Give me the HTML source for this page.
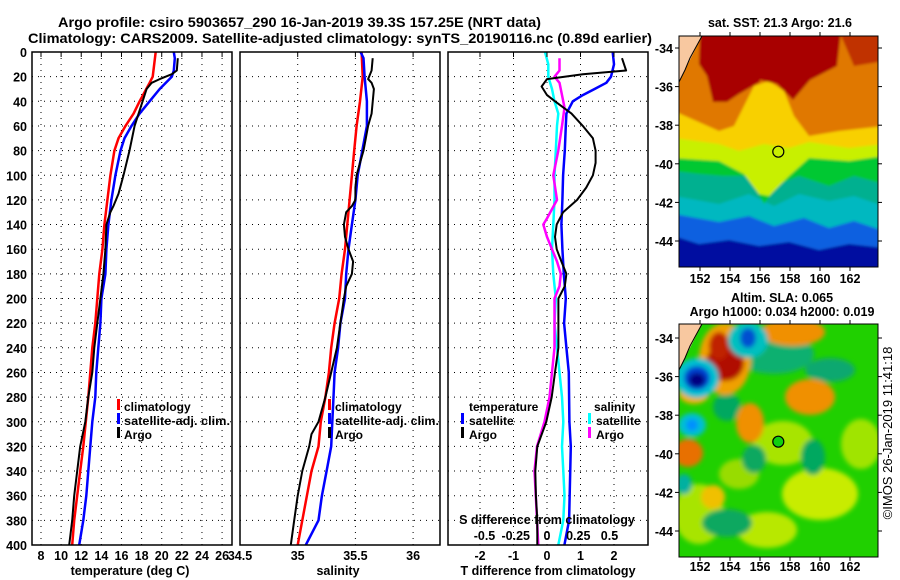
<!DOCTYPE html>
<html><head><meta charset="utf-8">
<style>
html,body{margin:0;padding:0;background:#fff;}
svg{display:block;font-family:"Liberation Sans",sans-serif;font-weight:bold;}
text{font-size:12.5px;fill:#000;}
</style></head>
<body>
<svg id="chart" width="900" height="580" viewBox="0 0 900 580" xmlns="http://www.w3.org/2000/svg">
<defs>
  <filter id="blur1" x="-5%" y="-5%" width="110%" height="110%"><feGaussianBlur stdDeviation="1.2"/></filter>
  <filter id="blur2" x="-10%" y="-10%" width="120%" height="120%"><feGaussianBlur stdDeviation="2.5"/></filter>
  <clipPath id="clipTop"><rect x="679" y="36" width="199" height="231"/></clipPath>
  <clipPath id="clipBot"><rect x="679" y="324" width="199" height="233"/></clipPath>
  <clipPath id="clipP1"><rect x="32" y="52" width="200" height="493"/></clipPath>
  <clipPath id="clipP2"><rect x="240" y="52" width="200" height="493"/></clipPath>
  <clipPath id="clipP3"><rect x="448" y="52" width="200" height="493"/></clipPath>
</defs>
<text x="58" y="27" textLength="483" lengthAdjust="spacingAndGlyphs" style="font-size:14px">Argo profile: csiro 5903657_290 16-Jan-2019 39.3S 157.25E (NRT data)</text>
<text x="28" y="43" textLength="624" lengthAdjust="spacingAndGlyphs" style="font-size:14px">Climatology: CARS2009. Satellite-adjusted climatology: synTS_20190116.nc (0.89d earlier)</text>

<g id="grids"></g>
<g id="series"></g>
<g id="axes"></g>

<!-- legends -->
<g style="font-size:12px">
  <rect x="117" y="399" width="3" height="11" fill="#f00"/><text x="124" y="411" style="font-size:12px">climatology</text>
  <rect x="117" y="413" width="3" height="11" fill="#00f"/><text x="124" y="425" style="font-size:12px" textLength="106" lengthAdjust="spacingAndGlyphs">satellite-adj. clim.</text>
  <rect x="117" y="427" width="3" height="11" fill="#000"/><text x="124" y="439" style="font-size:12px">Argo</text>
</g>
<g>
  <rect x="328" y="399" width="3" height="11" fill="#f00"/><text x="335" y="411" style="font-size:12px">climatology</text>
  <rect x="328" y="413" width="3" height="11" fill="#00f"/><text x="335" y="425" style="font-size:12px" textLength="104" lengthAdjust="spacingAndGlyphs">satellite-adj. clim.</text>
  <rect x="328" y="427" width="3" height="11" fill="#000"/><text x="335" y="439" style="font-size:12px">Argo</text>
</g>
<g>
  <text x="469" y="411" style="font-size:12px">temperature</text>
  <rect x="461" y="413" width="3" height="11" fill="#00f"/><text x="469" y="425" style="font-size:12px">satellite</text>
  <rect x="461" y="427" width="3" height="11" fill="#000"/><text x="469" y="439" style="font-size:12px">Argo</text>
  <text x="594" y="411" style="font-size:12px">salinity</text>
  <rect x="588" y="413" width="3" height="11" fill="#0ff"/><text x="596" y="425" style="font-size:12px">satellite</text>
  <rect x="588" y="427" width="3" height="11" fill="#f0f"/><text x="596" y="439" style="font-size:12px">Argo</text>
</g>

<!-- axis titles -->
<text x="130" y="575" text-anchor="middle">temperature (deg C)</text>
<text x="338" y="575" text-anchor="middle">salinity</text>
<text x="548" y="575" text-anchor="middle">T difference from climatology</text>
<text x="547" y="524" text-anchor="middle">S difference from climatology</text>

<!-- SST map -->
<g clip-path="url(#clipTop)">
  <g transform="translate(679,36)" filter="url(#blur1)">
    <rect x="-5" y="-5" width="210" height="245" fill="#0010a0"/>
    <path d="M-5,-5 H205 V212 L170,208 L140,214 L110,206 L80,210 L50,204 L20,208 L-5,200 Z" fill="#1060e0"/>
    <path d="M-5,-5 H205 V195 L175,185 L150,192 L125,182 L95,190 L70,180 L40,186 L-5,178 Z" fill="#00b8c0"/>
    <path d="M-5,-5 H205 V170 L175,160 L150,165 L120,158 L95,170 L70,158 L40,168 L-5,160 Z" fill="#00b090"/>
    <path d="M-5,-5 H205 V148 L175,140 L150,150 L120,140 L100,148 L85,168 L70,140 L45,140 L20,138 L-5,135 Z" fill="#00c830"/>
    <path d="M-5,-5 H205 V120 L170,125 L130,122 L110,140 L90,160 L80,158 L65,138 L40,125 L-5,122 Z" fill="#c8f000"/>
    <path d="M-5,-5 H205 V108 L170,112 L130,106 L110,112 L85,108 L60,115 L40,108 L-5,102 Z" fill="#f8d000"/>
    <path d="M-5,-5 H205 V90 L160,95 L130,100 L115,80 L105,55 L90,45 L75,50 L55,90 L40,95 L-5,75 Z" fill="#e07800"/>
    <path d="M21,-5 L81,-5 L81,46 L60,58 L48,66 L34,66 L28,40 L20,28 Z" fill="#a80000"/>
    <path d="M81,-5 L162,-5 L158,30 L131,44 L114,64 L98,48 L81,44 Z" fill="#a80000"/>
    <path d="M160,-5 L205,-5 L205,25 L175,30 Z" fill="#c03000"/>
  </g>
  <path d="M679,36 L702,36 L679,82 Z" fill="#f8c8a0"/>
  <path d="M702,36 L690,58 L685,70 L679,82" fill="none" stroke="#000" stroke-width="1"/>
</g>
<rect x="679" y="36" width="199" height="231" fill="none" stroke="#000" stroke-width="1"/>
<circle cx="778.3" cy="151.7" r="5.5" fill="none" stroke="#000" stroke-width="1.2"/>
<text x="780" y="27" text-anchor="middle">sat. SST: 21.3 Argo: 21.6</text>

<!-- SLA map -->
<g clip-path="url(#clipBot)">
  <g transform="translate(679,324)">
    <rect x="-5" y="-5" width="210" height="245" fill="#20d000"/>
    <g filter="url(#blur2)">
      <ellipse cx="141" cy="170" rx="38" ry="26" fill="#c8ec00"/>
      <ellipse cx="104" cy="119" rx="30" ry="22" fill="#a8e400"/>
      <ellipse cx="182" cy="120" rx="20" ry="25" fill="#a0e400"/>
      <ellipse cx="88" cy="206" rx="30" ry="18" fill="#b8e800"/>
      <ellipse cx="20" cy="190" rx="25" ry="30" fill="#a8e400"/>
      <ellipse cx="60" cy="150" rx="20" ry="15" fill="#98dc00"/>
      <ellipse cx="48" cy="83" rx="14" ry="14" fill="#00a860"/>
      <ellipse cx="134" cy="133" rx="12" ry="18" fill="#00a860"/>
      <ellipse cx="151" cy="46" rx="25" ry="12" fill="#10a870"/>
      <ellipse cx="48" cy="199" rx="25" ry="14" fill="#10a860"/>
      <ellipse cx="75" cy="135" rx="12" ry="14" fill="#10a860"/>
      <ellipse cx="95" cy="30" rx="40" ry="20" fill="#10b070"/>
      <ellipse cx="46" cy="35" rx="26" ry="36" fill="#f0a000"/>
      <ellipse cx="46" cy="39" rx="19" ry="18" fill="#b01000"/>
      <ellipse cx="40" cy="22" rx="10" ry="14" fill="#c02000"/>
      <ellipse cx="114" cy="8" rx="32" ry="14" fill="#f09000"/>
      <ellipse cx="131" cy="73" rx="25" ry="18" fill="#f09000"/>
      <ellipse cx="71" cy="99" rx="14" ry="20" fill="#f09000"/>
      <ellipse cx="9" cy="129" rx="15" ry="14" fill="#e87000"/>
      <ellipse cx="34" cy="173" rx="12" ry="12" fill="#f0c000"/>
      <ellipse cx="15" cy="70" rx="15" ry="10" fill="#f0b000"/>
      <ellipse cx="69" cy="16" rx="20" ry="18" fill="#00c0c0"/>
      <ellipse cx="69" cy="14" rx="8" ry="10" fill="#0050d0"/>
      <ellipse cx="18" cy="54" rx="22" ry="20" fill="#00c0d0"/>
      <ellipse cx="18" cy="54" rx="13" ry="12" fill="#0040d0"/>
      <ellipse cx="18" cy="56" rx="8" ry="7" fill="#000080"/>
      <ellipse cx="13" cy="101" rx="14" ry="12" fill="#00c0d0"/>
      <ellipse cx="13" cy="101" rx="6" ry="6" fill="#0090ff"/>
      <ellipse cx="5" cy="160" rx="8" ry="10" fill="#00b0a0"/>
    </g>
  </g>
  <path d="M679,324 L702,324 L679,370 Z" fill="#f8c8a0"/>
  <path d="M702,324 L690,346 L685,358 L679,370" fill="none" stroke="#000" stroke-width="1"/>
</g>
<rect x="679" y="324" width="199" height="233" fill="none" stroke="#000" stroke-width="1"/>
<circle cx="778.3" cy="441.7" r="5.5" fill="#10d010" stroke="#000" stroke-width="1.2"/>
<text x="782" y="302" text-anchor="middle">Altim. SLA: 0.065</text>
<text x="782" y="316" text-anchor="middle">Argo h1000: 0.034 h2000: 0.019</text>
<g id="mapaxes"></g>
<text transform="translate(892,433) rotate(-90)" text-anchor="middle" style="font-weight:normal;font-size:13px">©IMOS 26-Jan-2019 11:41:18</text>

<script>
// ---- data ----
const tClimDepth=[0,20,25,40,50,60,70,80,100,120,140,160,180,200,220,240,260,280,300,320,340,360,380,400];
const tClimVal=[19.4,19.1,18.8,17.8,17.2,16.4,15.7,15.3,14.9,14.6,14.3,14.1,13.8,13.6,13.4,13.1,12.9,12.7,12.45,12.2,11.9,11.6,11.3,11.1];
const tSatDepth=[0,5,15,20,30,40,50,60,70,80,100,120,140,160,180,200,220,240,260,280,300,320,340,360,380,400];
const tSatVal=[21.2,21.3,21.2,21.0,19.8,18.8,17.8,17.0,16.3,15.9,15.4,15.0,14.7,14.5,14.4,14.0,13.9,13.7,13.5,13.4,13.1,12.9,12.7,12.5,12.2,11.8];
const tArgoDepth=[5,15,18,22,25,30,40,50,60,80,100,115,125,130,140,160,180,200,220,240,260,280,300,320,340,360,380,400];
const tArgoVal=[21.6,21.5,21.0,19.8,19.0,18.5,18.1,17.7,17.3,16.8,16.2,15.7,15.2,14.9,14.5,14.4,14.2,13.9,13.6,13.3,13.1,12.7,12.4,11.9,11.6,11.3,11.1,10.8];

const sClimDepth=[0,20,40,60,80,100,120,140,160,180,200,220,240,260,280,300,320,340,360,380,400];
const sClimVal=[35.554,35.563,35.54,35.51,35.49,35.47,35.45,35.43,35.41,35.38,35.36,35.32,35.29,35.27,35.24,35.20,35.18,35.12,35.08,35.04,35.0];
const sSatDepth=[0,5,20,40,60,80,100,120,140,160,180,200,220,240,260,280,300,320,340,360,380,400];
const sSatVal=[35.545,35.57,35.58,35.60,35.60,35.56,35.52,35.50,35.47,35.44,35.42,35.41,35.37,35.35,35.32,35.31,35.30,35.29,35.25,35.21,35.18,35.07];
const sArgoDepth=[5,15,22,25,30,50,60,70,80,90,100,110,120,125,130,140,150,160,170,180,190,200,220,240,260,280,300,310,320,340,360,380,400];
const sArgoVal=[35.65,35.64,35.61,35.64,35.66,35.64,35.61,35.59,35.57,35.54,35.51,35.50,35.50,35.47,35.42,35.40,35.41,35.44,35.48,35.47,35.42,35.40,35.37,35.34,35.29,35.24,35.18,35.12,35.10,35.04,35.0,34.97,34.94];

const dtSatDepth=[0,10,20,25,30,35,40,50,60,80,100,120,140,160,180,200,220,240,260,280,300,320,380,400];
const dtSatVal=[1.96,2.0,1.91,1.77,1.42,1.07,0.77,0.58,0.56,0.53,0.48,0.46,0.43,0.46,0.50,0.56,0.51,0.58,0.65,0.66,0.67,0.71,0.66,0.52];
const dtArgoDepth=[5,15,18,22,28,35,40,50,60,70,80,90,100,110,120,130,140,150,160,170,180,190,200,220,240,260,280,300,320,340,360,380,400];
const dtArgoVal=[2.24,2.36,1.07,0,-0.16,0,0.24,0.73,1.07,1.37,1.45,1.45,1.37,1.17,0.9,0.48,0.29,0.24,0.29,0.43,0.58,0.53,0.34,0.34,0.34,0.24,0.14,-0.02,-0.29,-0.35,-0.33,-0.29,-0.29];
const dsSatDepth=[0,10,20,30,40,50,60,80,100,120,140,160,180,200,220,240,260,280,300,320,340,360,380,400];
const dsSatVal=[-0.016,0.01,0.01,0.04,0.06,0.09,0.08,0.07,0.06,0.06,0.05,0.04,0.05,0.07,0.06,0.08,0.10,0.12,0.13,0.12,0.13,0.14,0.13,0.09];
const dsArgoDepth=[5,15,20,25,35,45,60,80,100,120,135,140,150,160,170,180,190,200,220,240,260,280,300,320,340,360,380,400];
const dsArgoVal=[0.10,0.10,0.06,0.10,0.12,0.14,0.12,0.09,0.05,0.08,0,-0.03,0,0.04,0.08,0.11,0.10,0.06,0.06,0.06,0.04,0.02,-0.02,-0.08,-0.10,-0.09,-0.08,-0.07];

const depthTicks=[0,20,40,60,80,100,120,140,160,180,200,220,240,260,280,300,320,340,360,380,400];
const tempTicks=[8,10,12,14,16,18,20,22,24,26];
const salTicks=[34.5,35,35.5,36];
const salTickLabels=["34.5","35","35.5","36"];
const dtTicks=[-2,-1,0,1,2];
const dsTicks=[-0.5,-0.25,0,0.25,0.5];
const lonTicks=[152,154,156,158,160,162];
const latTicks=[-34,-36,-38,-40,-42,-44];

// ---- axis functions ----
const yD=d=>52+d*1.2325;
const xT=t=>41+(t-8)*10.06;
const xS=s=>240+(s-34.5)*115.4;
const xDT=v=>547+v*33.5;
const xDS=v=>547+v*125;
const xLon=l=>700+(l-152)*15;
const yLatTop=l=>48+(-34-l)*19.3;
const yLatBot=l=>338+(-34-l)*19.3;

const NS='http://www.w3.org/2000/svg';
function mk(tag,attrs,parent){const e=document.createElementNS(NS,tag);for(const k in attrs)e.setAttribute(k,attrs[k]);parent.appendChild(e);return e;}
const grids=document.getElementById('grids'),series=document.getElementById('series'),axes=document.getElementById('axes'),mapaxes=document.getElementById('mapaxes');

const panels=[{x0:32,x1:232,name:'temperature'},{x0:240,x1:440,name:'salinity'},{x0:448,x1:648,name:'t-difference'}];
const vlines=[tempTicks.map(xT),salTicks.slice(1).map(xS),dtTicks.map(xDT)];
panels.forEach((p,i)=>{
  depthTicks.slice(1,-1).forEach(d=>{
    const l=mk('line',{x1:p.x0,x2:p.x1,y1:yD(d),y2:yD(d),stroke:'#000','stroke-width':1,'stroke-dasharray':'1,5'},grids);
    
    
  });
  vlines[i].forEach(x=>{
    if(x<=p.x0+1||x>=p.x1-1)return;
    const l=mk('line',{x1:x,x2:x,y1:52,y2:545,stroke:'#000','stroke-width':1,'stroke-dasharray':'1,5'},grids);
    
    
    const t=mk('line',{x1:x,x2:x,y1:52,y2:57,stroke:'#000','stroke-width':1},axes);
    
    
  });
  const r=mk('rect',{x:p.x0,y:52,width:p.x1-p.x0,height:493,fill:'none',stroke:'#000','stroke-width':1.5},axes);
  
  
});
depthTicks.forEach(d=>{
  const t=mk('text',{x:27,y:yD(d)+5,'text-anchor':'end'},axes);t.textContent=d;
  
  
});
tempTicks.forEach(v=>{
  const t=mk('text',{x:xT(v),y:560,'text-anchor':'middle'},axes);t.textContent=v;
  
  
});
salTicks.forEach((v,i)=>{
  const t=mk('text',{x:xS(v),y:560,'text-anchor':'middle'},axes);t.textContent=salTickLabels[i];
  
  
});
dtTicks.forEach(v=>{
  const t=mk('text',{x:xDT(v),y:560,'text-anchor':'middle'},axes);t.textContent=v;
  
  
});
dsTicks.forEach(v=>{
  const t=mk('text',{x:xDS(v),y:540,'text-anchor':'middle'},axes);t.textContent=v;
  
  
});

function line(depths,vals,xf,color,w,clip,name){
  const pts=depths.map((d,i)=>xf(vals[i]).toFixed(1)+','+yD(d).toFixed(1)).join(' ');
  const pl=mk('polyline',{points:pts,fill:'none',stroke:color,'stroke-width':w,'stroke-linejoin':'round','clip-path':'url(#'+clip+')'},series);
  
  
}
line(tClimDepth,tClimVal,xT,'#f00',2.5,'clipP1','temperature-climatology-line');
line(tSatDepth,tSatVal,xT,'#00f',2.5,'clipP1','temperature-satellite-line');
line(tArgoDepth,tArgoVal,xT,'#000',2,'clipP1','temperature-argo-line');
line(sClimDepth,sClimVal,xS,'#f00',2.5,'clipP2','salinity-climatology-line');
line(sSatDepth,sSatVal,xS,'#00f',2.5,'clipP2','salinity-satellite-line');
line(sArgoDepth,sArgoVal,xS,'#000',2,'clipP2','salinity-argo-line');
line(dsSatDepth,dsSatVal,xDS,'#0ff',2.5,'clipP3','s-difference-satellite-line');
line(dsArgoDepth,dsArgoVal,xDS,'#f0f',2.5,'clipP3','s-difference-argo-line');
line(dtSatDepth,dtSatVal,xDT,'#00f',2.5,'clipP3','t-difference-satellite-line');
line(dtArgoDepth,dtArgoVal,xDT,'#000',2,'clipP3','t-difference-argo-line');

// map axes
[[36,267,yLatTop,283],[324,557,yLatBot,571]].forEach(([top,bot,yf,ly])=>{
  lonTicks.forEach(l=>{
    const x=xLon(l);
    mk('line',{x1:x,x2:x,y1:top,y2:top-4,stroke:'#000'},mapaxes);
    mk('line',{x1:x,x2:x,y1:bot,y2:bot+4,stroke:'#000'},mapaxes);
    const t=mk('text',{x:x,y:ly,'text-anchor':'middle'},mapaxes);t.textContent=l;
    
    
  });
  latTicks.forEach(l=>{
    const y=yf(l);
    mk('line',{x1:679,x2:675,y1:y,y2:y,stroke:'#000'},mapaxes);
    mk('line',{x1:878,x2:882,y1:y,y2:y,stroke:'#000'},mapaxes);
    const t=mk('text',{x:673,y:y+5,'text-anchor':'end'},mapaxes);t.textContent=l;
    
    
  });
});
</script>
</svg>
</body></html>
